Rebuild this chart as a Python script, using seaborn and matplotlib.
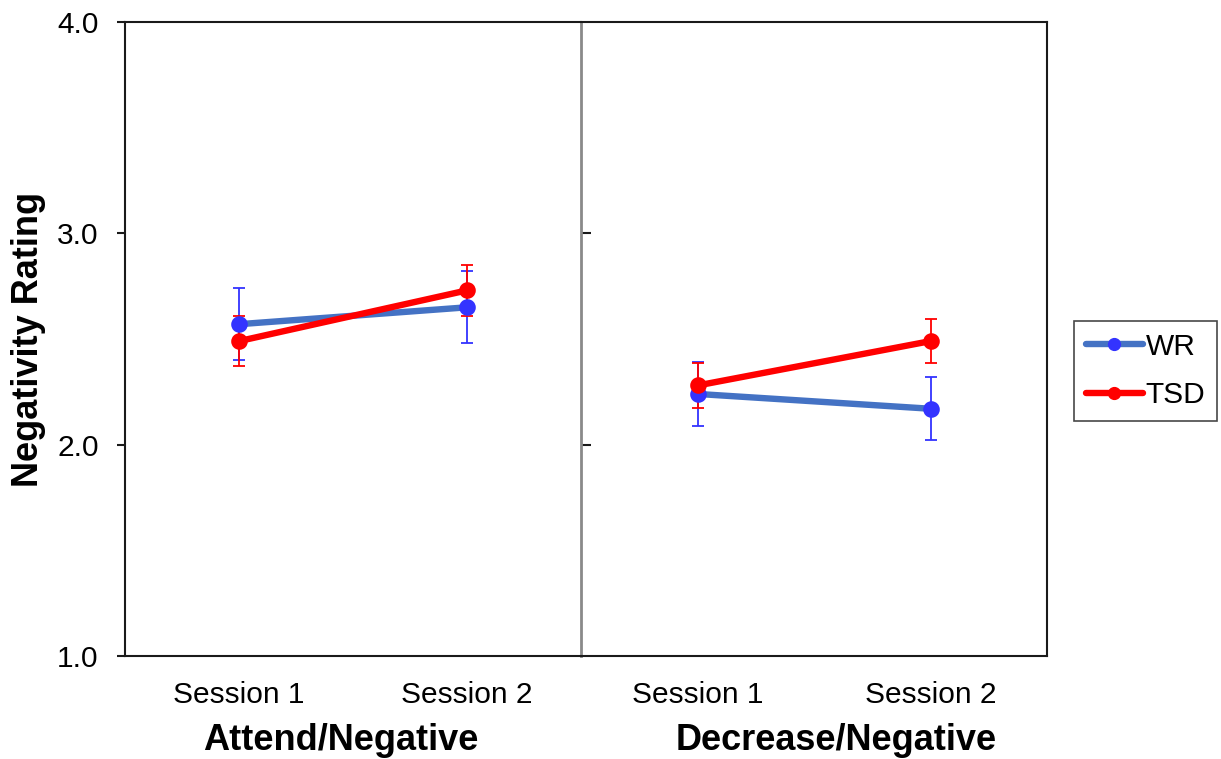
import pandas as pd
import numpy as np
import matplotlib
matplotlib.use("Agg")
import matplotlib.pyplot as plt
import seaborn as sns
from matplotlib.lines import Line2D

# values
sessions = ["Session 1", "Session 2"]
groups = ["WR", "TSD"]
conditions = ["Attend/Negative", "Decrease/Negative"]

attend_wr = [2.57, 2.65]
attend_tsd = [2.49, 2.73]
attend_wr_err = [0.17, 0.17]
attend_tsd_err = [0.12, 0.12]

decrease_wr = [2.24, 2.17]
decrease_tsd = [2.28, 2.49]
decrease_wr_err = [0.15, 0.15]
decrease_tsd_err = [0.105, 0.105]

line_colors = {"WR": "#4472C4", "TSD": "#FF0000"}
marker_colors = {"WR": "#3333FF", "TSD": "#FF0000"}

rows = []
for cond, wr, tsd, wre, tsde in [
    (conditions[0], attend_wr, attend_tsd, attend_wr_err, attend_tsd_err),
    (conditions[1], decrease_wr, decrease_tsd, decrease_wr_err, decrease_tsd_err),
]:
    for i, s in enumerate(sessions):
        rows.append(dict(cond=cond, session=s, group="WR", rating=wr[i], err=wre[i]))
        rows.append(dict(cond=cond, session=s, group="TSD", rating=tsd[i], err=tsde[i]))
df = pd.DataFrame(rows)

sns.set_style("white")
plt.rcParams["font.family"] = ["Liberation Sans", "DejaVu Sans"]
plt.rcParams["text.color"] = "black"
plt.rcParams["axes.labelcolor"] = "black"
plt.rcParams["xtick.color"] = "black"
plt.rcParams["ytick.color"] = "black"

fig = plt.figure(figsize=(12.21, 7.59), dpi=100)
ax1 = fig.add_axes([125 / 1221, 1 - 656 / 759, 456 / 1221, 634 / 759])
ax2 = fig.add_axes([581 / 1221, 1 - 656 / 759, 466 / 1221, 634 / 759])

for ax, cond in zip([ax1, ax2], conditions):
    d = df[df["cond"] == cond]
    # error bars first, underneath the lines
    for g in groups:
        dg = d[d["group"] == g]
        ax.errorbar(np.arange(len(sessions)), dg["rating"], yerr=dg["err"], fmt="none",
                    ecolor=marker_colors[g], elinewidth=1.3, capsize=4.5, capthick=1.3, zorder=2)
    sns.pointplot(data=d, x="session", y="rating", hue="group", hue_order=groups,
                  order=sessions, palette=line_colors, errorbar=None, markers="o",
                  linewidth=4.6, markersize=8.5, ax=ax, legend=False)
    for ln, g in zip(ax.lines[-len(groups):], groups):
        ln.set_markerfacecolor(marker_colors[g])
        ln.set_markeredgecolor(marker_colors[g])
        ln.set_zorder(3)
    ax.set_ylim(1.0, 4.0)
    ax.set_xlim(-0.5, 1.5)
    ax.set_xlabel(cond, fontsize=26, fontweight="bold")
    ax.tick_params(axis="x", length=0, pad=18, labelsize=21.5)
    for sp in ax.spines.values():
        sp.set_color("#1a1a1a")
        sp.set_linewidth(1.5)

ax1.xaxis.set_label_coords(0.474, -0.105, transform=ax1.transAxes)
ax2.xaxis.set_label_coords(0.547, -0.105, transform=ax2.transAxes)
ax1.xaxis.label.set_va("top")
ax2.xaxis.label.set_va("top")

ax1.set_yticks([1.0, 2.0, 3.0, 4.0])
ax1.set_yticklabels(["1.0", "2.0", "3.0", "4.0"])
ax1.tick_params(axis="y", direction="out", length=6, width=1.5, color="#1a1a1a",
                labelsize=21.5, pad=13, left=True)
ax1.set_ylabel("Negativity Rating", fontsize=26, fontweight="bold", labelpad=8)
ax1.spines["right"].set_visible(False)

ax2.set_yticks([2.0, 3.0])
ax2.set_yticklabels([])
ax2.tick_params(axis="y", direction="in", length=7, width=1.5, color="#1a1a1a", left=True)
ax2.set_ylabel("")
ax2.spines["left"].set_color("#8a8a8a")
ax2.spines["left"].set_linewidth(2)

handles = [Line2D([0], [0], color=line_colors[g], lw=4.6, marker="o", markersize=8.5,
                  markerfacecolor=marker_colors[g], markeredgecolor=marker_colors[g])
           for g in groups]
leg = fig.legend(handles, groups, loc="center left", bbox_to_anchor=(1074 / 1221, 1 - 371 / 759),
                 fontsize=21.5, frameon=True, fancybox=False, handlelength=1.9,
                 handletextpad=0.1, borderpad=0.4, labelspacing=0.7, borderaxespad=0)
leg.get_frame().set_edgecolor("#1a1a1a")
leg.get_frame().set_linewidth(1.2)

fig.savefig("out.png", dpi=100)
